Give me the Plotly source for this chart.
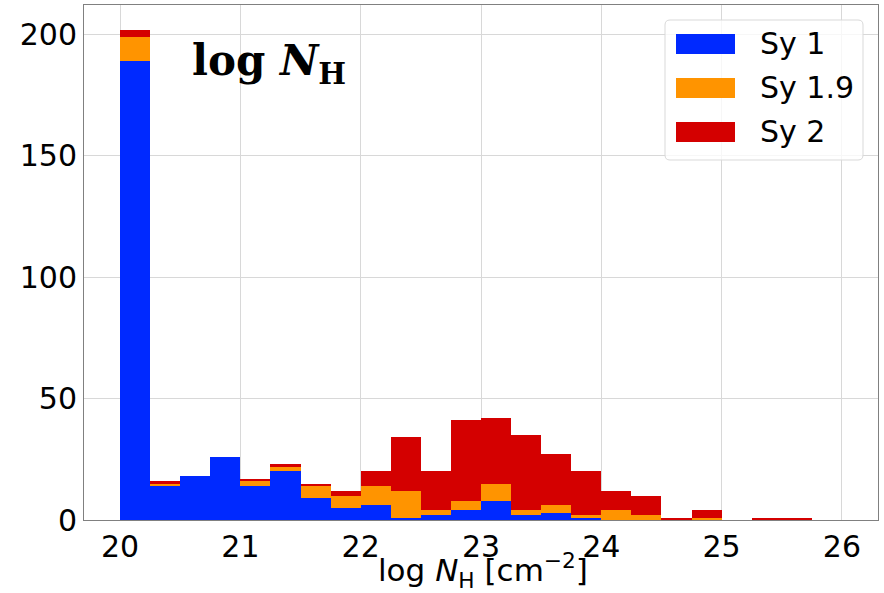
import plotly.graph_objects as go

bin_left = [20.0 + 0.25 * i for i in range(24)]
sy1 = [189, 14, 18, 26, 14, 20, 9, 5, 6, 1, 2, 4, 8, 2, 3, 1, 0, 0, 0, 0, 0, 0, 0, 0]
sy19 = [10, 1, 0, 0, 2, 2, 5, 5, 8, 11, 2, 4, 7, 2, 3, 1, 4, 2, 0, 1, 0, 0, 0, 0]
sy2 = [3, 1, 0, 0, 1, 1, 1, 2, 6, 22, 16, 33, 27, 31, 21, 18, 8, 8, 1, 3, 0, 1, 1, 0]

names = ["Sy 1", "Sy 1.9", "Sy 2"]
colors = ["#0029FF", "#FF9400", "#D40000"]
series = [sy1, sy19, sy2]
x_title = "log <i>N</i><sub>H</sub> [cm<sup>−2</sup>]"

centers = [b + 0.125 for b in bin_left]

W, H = 884, 593
ML, MR, MT, MB = 84, 6, 5, 73
PW, PH = W - ML - MR, H - MT - MB


def px(x):
    return (x - ML) / PW


def py(y):
    return (H - MB - y) / PH


fig = go.Figure()
for name, col, vals in zip(names, colors, series):
    fig.add_trace(go.Bar(x=centers, y=vals, width=0.25, marker=dict(color=col, line=dict(width=0)),
                         name=name, showlegend=False))

fig.update_layout(
    width=W, height=H,
    margin=dict(l=ML, r=MR, t=MT, b=MB),
    paper_bgcolor="white", plot_bgcolor="white",
    barmode="stack", bargap=0,
    font=dict(family="DejaVu Sans", size=30, color="black"),
    showlegend=False,
)
fig.update_xaxes(range=[19.7, 26.3], tickvals=[20, 21, 22, 23, 24, 25, 26],
                 showgrid=True, gridcolor="#d8d8d8", gridwidth=1,
                 showline=True, linecolor="#808080", linewidth=1, mirror=True,
                 ticks="", zeroline=False, automargin=False)
fig.update_yaxes(range=[0, 212.1], tickvals=[0, 50, 100, 150, 200],
                 showgrid=True, gridcolor="#d8d8d8", gridwidth=1,
                 showline=True, linecolor="#808080", linewidth=1, mirror=True,
                 ticks="", zeroline=False, automargin=False)

# x-axis title
fig.add_annotation(xref="paper", yref="paper", x=px(483), y=py(570), xanchor="center", yanchor="middle",
                   text=x_title, showarrow=False, font=dict(size=31, color="black"))

fig.add_annotation(xref="paper", yref="paper", x=px(190), y=py(64), xanchor="left", yanchor="middle",
                   text="<b>log <i>N</i><sub>H</sub></b>", showarrow=False,
                   font=dict(family="DejaVu Serif", size=42, color="black"))

# legend (drawn manually to match rectangular patches)
bx0, bx1, by0, by1, r = 665, 863, 20, 160, 5
x0, x1, y0, y1 = px(bx0), px(bx1), py(by0), py(by1)
rx, ry = r / PW, r / PH
path = (f"M{x0+rx},{y0} L{x1-rx},{y0} Q{x1},{y0} {x1},{y0-ry} L{x1},{y1+ry} Q{x1},{y1} {x1-rx},{y1} "
        f"L{x0+rx},{y1} Q{x0},{y1} {x0},{y1+ry} L{x0},{y0-ry} Q{x0},{y0} {x0+rx},{y0} Z")
fig.add_shape(type="path", path=path, xref="paper", yref="paper",
              fillcolor="rgba(255,255,255,0.8)", line=dict(color="#d9d9d9", width=1), layer="above")
row_c = [44, 88, 132]
for name, col, yc in zip(names, colors, row_c):
    fig.add_shape(type="rect", xref="paper", yref="paper",
                  x0=px(676), x1=px(735), y0=py(yc - 10), y1=py(yc + 10),
                  fillcolor=col, line=dict(width=0), layer="above")
    fig.add_annotation(xref="paper", yref="paper", x=px(758), y=py(yc), xanchor="left", yanchor="middle",
                       text=name, showarrow=False, font=dict(size=30, color="black"))

fig.write_html("out.html")
